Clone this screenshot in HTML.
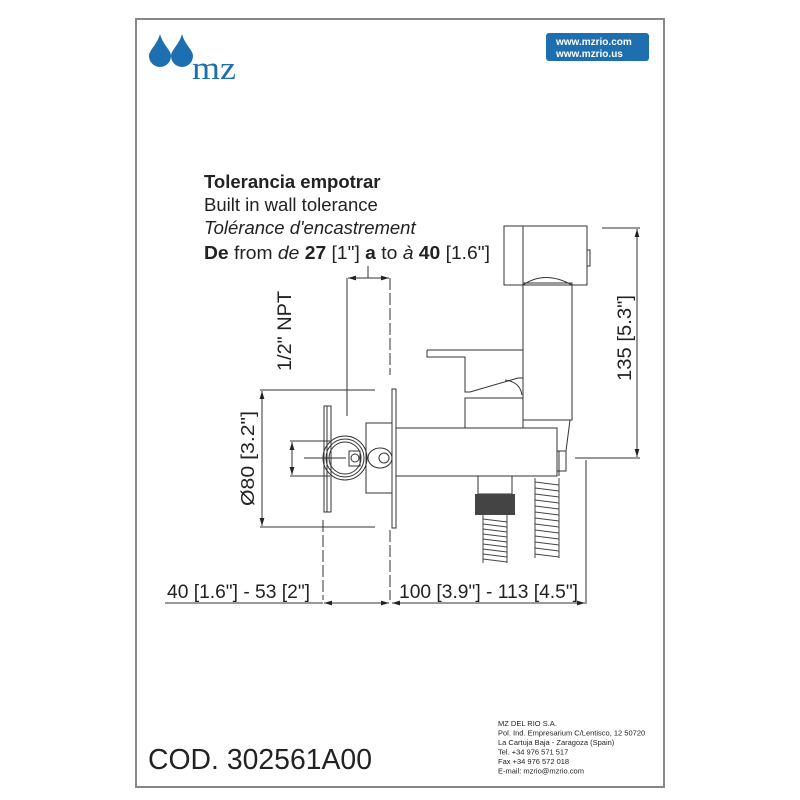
<!DOCTYPE html>
<html><head><meta charset="utf-8"><style>
html,body{margin:0;padding:0;background:#fff;}
svg{display:block;}
text{font-family:"Liberation Sans",Arial,sans-serif;fill:#222;}
</style></head><body>
<svg width="800" height="800" viewBox="0 0 800 800" xmlns="http://www.w3.org/2000/svg">
<defs>
<marker id="a" viewBox="0 0 10 6" refX="10" refY="3" markerWidth="8" markerHeight="5" orient="auto-start-reverse"><path d="M0,0 L10,3 L0,6 z" fill="#222"/></marker>
</defs>
<rect x="136" y="19" width="528" height="768" fill="none" stroke="#888" stroke-width="2"/>
<!-- logo -->
<path d="M160,34 C163,45 171,50 171,56 A11,11 0 0 1 149,56 C149,50 157,45 160,34z" fill="#1d6fb0"/>
<path d="M182,34 C185,45 193,50 193,56 A11,11 0 0 1 171,56 C171,50 179,45 182,34z" fill="#1d6fb0"/>
<text x="192" y="79" style="font-family:'Liberation Serif',serif;font-size:33px;fill:#1d6fb0" textLength="44" lengthAdjust="spacingAndGlyphs">mz</text>
<rect x="546" y="33" width="103" height="28" rx="3" fill="#1d6fb0"/>
<text x="556" y="45" style="font-size:10px;font-weight:bold;fill:#fff">www.mzrio.com</text>
<text x="556" y="57" style="font-size:10px;font-weight:bold;fill:#fff">www.mzrio.us</text>
<!-- title -->
<text x="204" y="188" style="font-size:18.5px;font-weight:bold">Tolerancia empotrar</text>
<text x="204" y="211" style="font-size:18.5px">Built in wall tolerance</text>
<text x="204" y="234" style="font-size:18.5px;font-style:italic">Tolérance d'encastrement</text>
<text x="204" y="259" style="font-size:18.5px" textLength="286" lengthAdjust="spacingAndGlyphs"><tspan font-weight="bold">De</tspan> from <tspan font-style="italic">de</tspan> <tspan font-weight="bold">27</tspan> [1"] <tspan font-weight="bold">a</tspan> to <tspan font-style="italic">à</tspan> <tspan font-weight="bold">40</tspan> [1.6"]</text>
<g stroke="#333" stroke-width="1" fill="none">
<line x1="368" y1="266" x2="368" y2="278"/>
<line x1="348" y1="278" x2="389" y2="278" marker-start="url(#a)" marker-end="url(#a)"/>
<line x1="347" y1="278" x2="347" y2="416"/>
<line x1="390" y1="278" x2="390" y2="375" stroke-dasharray="12,3"/>
<line x1="262" y1="391" x2="262" y2="526" marker-start="url(#a)" marker-end="url(#a)"/>
<line x1="260" y1="390" x2="375" y2="390"/>
<line x1="260" y1="527" x2="375" y2="527"/>
<line x1="292" y1="442" x2="292" y2="475" marker-start="url(#a)" marker-end="url(#a)"/>
<line x1="290" y1="441" x2="330" y2="441"/>
<line x1="290" y1="476" x2="330" y2="476"/>
<line x1="304" y1="458" x2="346" y2="458"/>
<rect x="392" y="389" width="4" height="139"/>
<rect x="324" y="406" width="7" height="106"/>
<line x1="327" y1="406" x2="327" y2="512"/>
<circle cx="345" cy="458" r="22"/>
<circle cx="345" cy="458" r="19"/>
<circle cx="345" cy="458" r="16"/>
<rect x="349" y="451" width="11" height="15"/>
<circle cx="355" cy="458" r="4"/>
<rect x="366" y="423" width="26" height="70"/>
<ellipse cx="380" cy="458" rx="12" ry="10"/>
<circle cx="384" cy="458" r="5"/>
<line x1="323" y1="520" x2="323" y2="600" stroke-dasharray="12,3"/>
<line x1="390" y1="530" x2="390" y2="600" stroke-dasharray="12,3"/>
<rect x="396" y="428" width="161" height="48"/>
<rect x="465" y="398" width="58" height="30"/>
<path d="M427,350 L523,350 M427,350 L427,357 L465,357 L465,392 L470,392 L518,378 L523,378"/>
<path d="M505,380 Q520,382 522,395"/>
<rect x="523" y="283" width="49" height="137"/>
<path d="M523,285 Q545,270 572,285"/>
<rect x="504" y="226" width="83" height="59"/>
<line x1="523" y1="226" x2="523" y2="285"/>
<rect x="587" y="250" width="3" height="16"/>
<path d="M527,420 L570,420 L566,451 L559,451 L559,476"/>
<rect x="557" y="451" width="9" height="20"/>
<line x1="637" y1="229" x2="637" y2="457" marker-start="url(#a)" marker-end="url(#a)"/>
<line x1="602" y1="228" x2="640" y2="228"/>
<line x1="575" y1="458" x2="640" y2="458"/>
<line x1="165" y1="603" x2="323" y2="603"/>
<line x1="324" y1="603" x2="389" y2="603" marker-start="url(#a)" marker-end="url(#a)"/>
<line x1="392" y1="603" x2="585" y2="603" marker-start="url(#a)" marker-end="url(#a)"/>
<line x1="586" y1="460" x2="586" y2="604"/>
<rect x="478" y="476" width="34" height="18"/>
</g>
<rect x="475" y="494" width="40" height="21" fill="#444"/>
<g stroke="#444" stroke-width="1" fill="none">
<path d="M483,515 v48 M507,515 v48 M535,478 v80 M559,478 v80"/>
<path d="M483,519 l24,3 M483,524 l24,3 M483,529 l24,3 M483,534 l24,3 M483,539 l24,3 M483,544 l24,3 M483,549 l24,3 M483,554 l24,3 M483,559 l24,3"/>
<path d="M535,482 l24,3 M535,488 l24,3 M535,494 l24,3 M535,500 l24,3 M535,506 l24,3 M535,512 l24,3 M535,518 l24,3 M535,524 l24,3 M535,530 l24,3 M535,536 l24,3 M535,542 l24,3 M535,548 l24,3 M535,554 l24,3"/>
</g>
<text transform="translate(291,371) rotate(-90)" style="font-size:19px" textLength="80" lengthAdjust="spacingAndGlyphs">1/2" NPT</text>
<text transform="translate(254,506) rotate(-90)" style="font-size:18px" textLength="95" lengthAdjust="spacingAndGlyphs">Ø80 [3.2"]</text>
<text transform="translate(631,381) rotate(-90)" style="font-size:19px" textLength="86" lengthAdjust="spacingAndGlyphs">135 [5.3"]</text>
<text x="167" y="598" style="font-size:19px" textLength="143" lengthAdjust="spacingAndGlyphs">40 [1.6"] - 53 [2"]</text>
<text x="399" y="598" style="font-size:19px" textLength="179" lengthAdjust="spacingAndGlyphs">100 [3.9"] - 113 [4.5"]</text>
<text x="148" y="769" style="font-size:29px" textLength="224" lengthAdjust="spacingAndGlyphs">COD. 302561A00</text>
<g style="font-size:7.5px">
<text x="498" y="726">MZ DEL RIO S.A.</text>
<text x="498" y="735.5">Pol. Ind. Empresarium C/Lentisco, 12  50720</text>
<text x="498" y="745">La Cartuja Baja - Zaragoza (Spain)</text>
<text x="498" y="754.5">Tel. +34 976 571 517</text>
<text x="498" y="764">Fax +34 976 572 018</text>
<text x="498" y="773.5">E-mail: mzrio@mzrio.com</text>
</g>
</svg>
</body></html>
